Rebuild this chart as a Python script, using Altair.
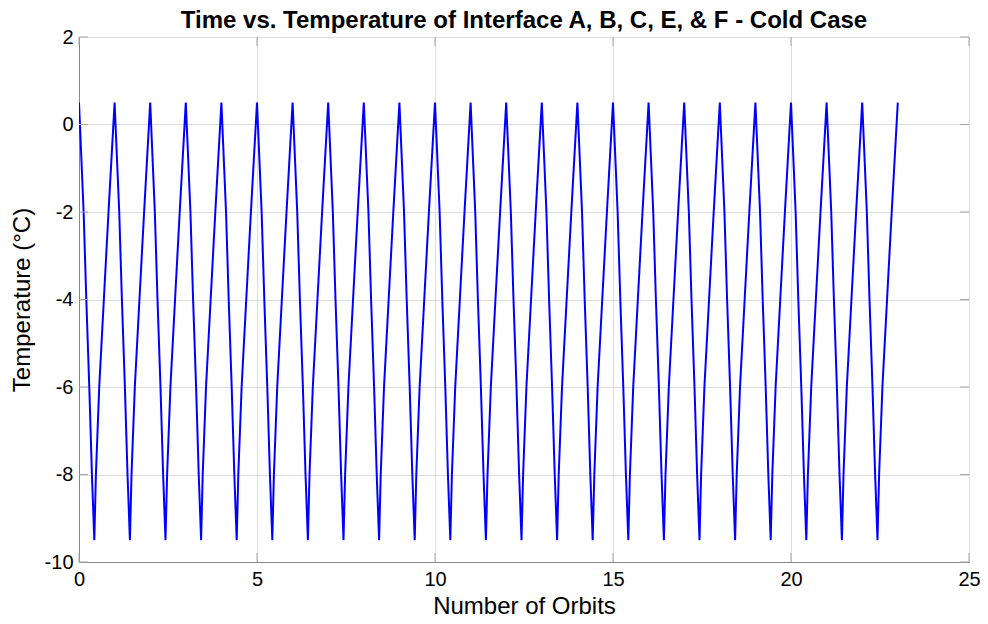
import altair as alt
import pandas as pd

# Shape of one orbit (phase within an orbit, temperature in °C)
cycle_phase = [0.0, 0.13, 0.205, 0.289, 0.363, 0.43, 0.475, 0.568, 0.698, 0.829]
cycle_temp = [0.5, -2.0, -4.0, -6.0, -8.0, -9.5, -8.0, -6.0, -4.0, -2.0]
orbits = list(range(0, 23))
final_orbit = 23
final_temp = 0.5

x_ticks = [0, 5, 10, 15, 20, 25]
y_ticks = [-10, -8, -6, -4, -2, 0, 2]

rows = []
for n in orbits:
    for p, t in zip(cycle_phase, cycle_temp):
        rows.append({"orbit": n + p, "temp": t})
rows.append({"orbit": final_orbit, "temp": final_temp})
df = pd.DataFrame(rows)
df["i"] = range(len(df))

xt = pd.DataFrame({"orbit": x_ticks})
yt = pd.DataFrame({"temp": y_ticks})

FONT = "Liberation Sans"
TXT = "#262626"
AX = "#a6a6a6"

W, H = 890, 525
TK = 9

xs = alt.Scale(domain=[0, 25], nice=False, zero=False)
ys = alt.Scale(domain=[-10, 2], nice=False, zero=False)

line = alt.Chart(df).mark_line(color="#0000ff", strokeWidth=2, clip=True).encode(
    x=alt.X("orbit:Q", scale=xs,
            axis=alt.Axis(values=x_ticks, title="Number of Orbits", grid=True,
                          labelFontSize=20, titleFontSize=24, labelPadding=7,
                          tickSize=0, titleFontWeight="normal",
                          labelExpr="'' + datum.value",
                          titleX=W / 2, titleY=44, titleBaseline="middle",
                          labelFlush=False)),
    y=alt.Y("temp:Q", scale=ys,
            axis=alt.Axis(values=y_ticks, title="Temperature (°C)", grid=True,
                          labelFontSize=20, titleFontSize=24, labelPadding=6,
                          tickSize=0, titleFontWeight="normal",
                          labelExpr="'' + datum.value",
                          titleX=-57, titleY=H / 2, titleBaseline="middle",
                          labelFlush=False)),
    order="i:Q",
)

# inward tick marks on all four sides
tick_style = dict(color=AX, strokeWidth=1)
bx = alt.Chart(xt).mark_rule(**tick_style).encode(
    x=alt.X("orbit:Q", scale=xs), y=alt.value(H - TK), y2=alt.value(H))
tx = alt.Chart(xt).mark_rule(**tick_style).encode(
    x=alt.X("orbit:Q", scale=xs), y=alt.value(0), y2=alt.value(TK))
ly = alt.Chart(yt).mark_rule(**tick_style).encode(
    y=alt.Y("temp:Q", scale=ys), x=alt.value(0), x2=alt.value(TK))
ry = alt.Chart(yt).mark_rule(**tick_style).encode(
    y=alt.Y("temp:Q", scale=ys), x=alt.value(W - TK), x2=alt.value(W))

chart = alt.layer(line, bx, tx, ly, ry).properties(
    width=W,
    height=H,
    title=alt.TitleParams(
        "Time vs. Temperature of Interface A, B, C, E, & F - Cold Case",
        fontSize=24, fontWeight="bold", font=FONT, color="#000000", offset=3, dy=9,
    ),
    padding={"left": 71, "top": 29, "right": 11, "bottom": 54},
    autosize=alt.AutoSizeParams(type="none"),
).configure_axis(
    labelFont=FONT, titleFont=FONT, labelColor=TXT, titleColor=TXT,
    domainColor=AX, gridColor="#ebebeb", gridOpacity=1,
).configure_view(
    stroke=AX, strokeWidth=1,
).configure(background="white")

chart.save("out.html", embed_options={"renderer": "svg", "actions": False})
